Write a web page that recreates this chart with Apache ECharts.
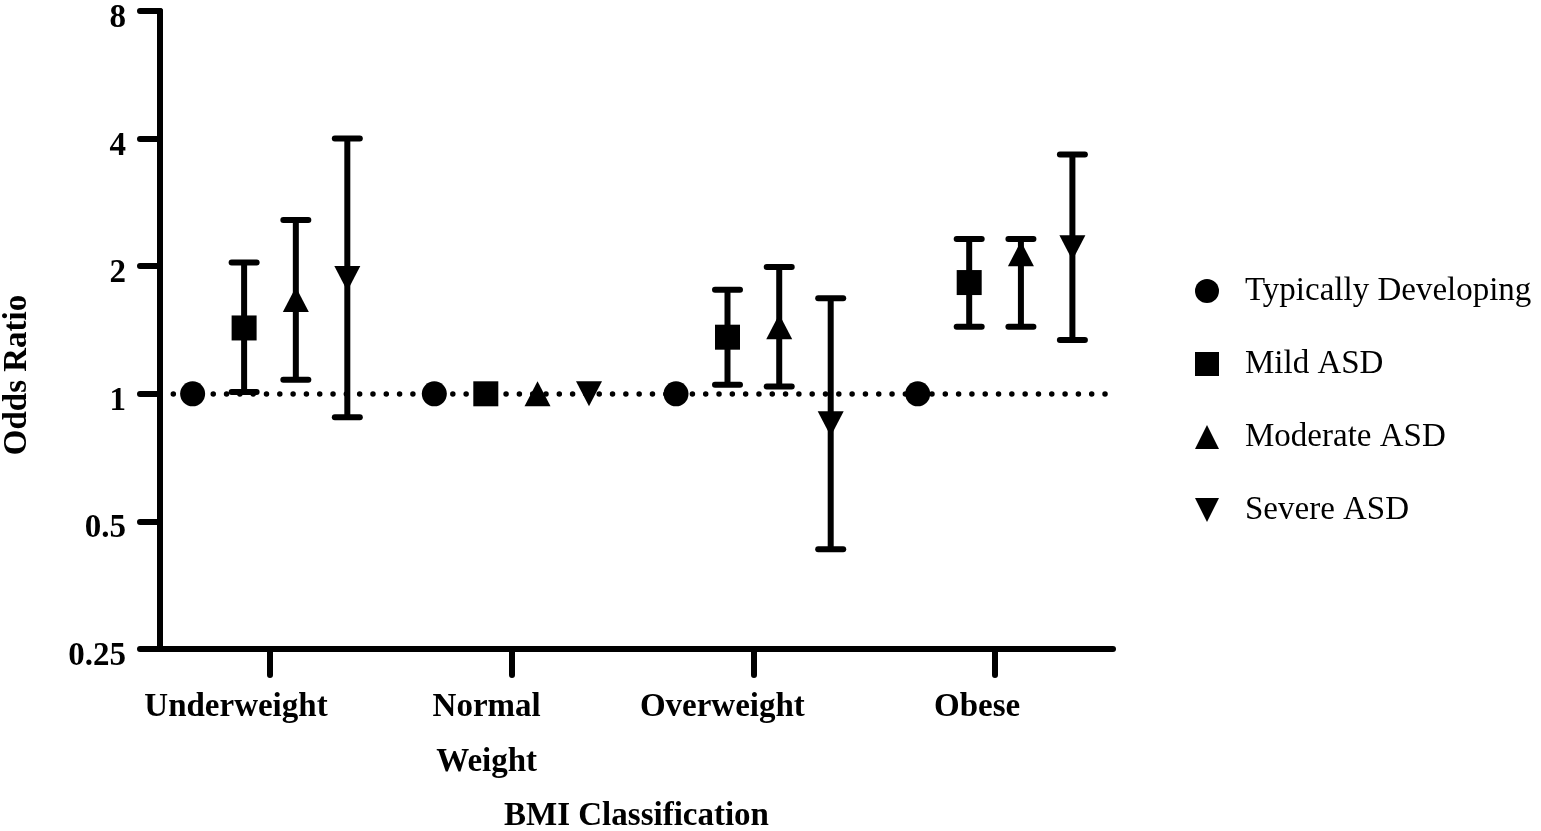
<!DOCTYPE html>
<html>
	<head>
		<meta charset="utf-8">
		<title>Odds Ratio by BMI Classification</title>
		<script src="https://cdn.jsdelivr.net/npm/echarts@6/dist/echarts.min.js"></script>
		<style>
			body { margin: 0; background: #fff; }
		</style>
	</head>
	<body>
		<div id="main" style="width: 1541px;height:831px;"></div>

		<script type="text/javascript">
			// data (odds ratio with 95% CI, log2 axis)
			var categories = ['Underweight', 'Normal\nWeight', 'Overweight', 'Obese'];
			var seriesNames = ['Typically Developing', 'Mild ASD', 'Moderate ASD', 'Severe ASD'];
			var yTicks = [0.25, 0.5, 1, 2, 4, 8];

			var tdOR = [1, 1, 1, 1];
			var mildOR = [1.43, 1, 1.36, 1.83];
			var mildLow = [1.01, null, 1.05, 1.44];
			var mildHigh = [2.04, null, 1.76, 2.32];
			var moderateOR = [1.67, 1, 1.44, 2.14];
			var moderateLow = [1.08, null, 1.04, 1.44];
			var moderateHigh = [2.57, null, 1.99, 2.32];
			var severeOR = [1.87, 1, 0.85, 2.21];
			var severeLow = [0.88, null, 0.43, 1.34];
			var severeHigh = [4.0, null, 1.68, 3.67];

			// layout: horizontal dodge of each series inside a group,
			// and how far each category label sits left of its tick
			var dodge = [-0.32, -0.107, 0.107, 0.32];
			var labelShift = [34, 25, 31, 18];
			var font = 'Liberation Serif';

			function points(values, k) {
				return values.map(function (v, i) { return [i + dodge[k], v]; });
			}
			function bars(low, high, k) {
				var out = [];
				low.forEach(function (lo, i) {
					if (lo != null) out.push([i + dodge[k], lo, high[i]]);
				});
				return out;
			}
			function renderBar(params, api) {
				var x = api.value(0);
				var pLo = api.coord([x, api.value(1)]);
				var pHi = api.coord([x, api.value(2)]);
				var half = 12.5;
				var st = { stroke: '#000', lineWidth: 6, lineCap: 'round' };
				return {
					type: 'group',
					children: [
						{ type: 'line', shape: { x1: pLo[0], y1: pLo[1], x2: pHi[0], y2: pHi[1] }, style: { stroke: '#000', lineWidth: 6 } },
						{ type: 'line', shape: { x1: pLo[0] - half, y1: pLo[1], x2: pLo[0] + half, y2: pLo[1] }, style: st },
						{ type: 'line', shape: { x1: pHi[0] - half, y1: pHi[1], x2: pHi[0] + half, y2: pHi[1] }, style: st }
					]
				};
			}
			function errorSeries(low, high, k) {
				return {
					type: 'custom',
					name: seriesNames[k] + ' CI',
					renderItem: renderBar,
					encode: { x: 0, y: [1, 2] },
					data: bars(low, high, k),
					silent: true,
					z: 1
				};
			}

			// one rich style per category label
			var catRich = {};
			labelShift.forEach(function (s, i) {
				catRich['c' + i] = {
					fontFamily: font, fontWeight: 'bold', fontSize: 33, color: '#000',
					lineHeight: 55, padding: [0, 2 * s, 0, 0]
				};
			});

			var myChart = echarts.init(document.getElementById('main'));

			var option = {
				animation: false,
				grid: { left: 160, right: 428, top: 11, bottom: 182, outerBoundsMode: 'none', containLabel: false },
				legend: {
					orient: 'vertical',
					left: 1190,
					top: 266,
					itemWidth: 24,
					itemHeight: 24,
					itemGap: 33,
					selectedMode: false,
					data: seriesNames,
					textStyle: { fontFamily: font, fontSize: 33, color: '#000', lineHeight: 32, padding: [8, 0, 0, 21] }
				},
				xAxis: {
					type: 'value',
					min: -0.455,
					max: 3.488,
					name: 'BMI Classification',
					nameLocation: 'middle',
					nameGap: 151,
					nameTextStyle: { fontFamily: font, fontWeight: 'bold', fontSize: 33, color: '#000' },
					axisLine: { onZero: false, lineStyle: { color: '#000', width: 6, cap: 'round' } },
					axisTick: { customValues: [0, 1, 2, 3], length: 26, lineStyle: { color: '#000', width: 6, cap: 'round' } },
					axisLabel: {
						customValues: [0, 1, 2, 3],
						formatter: function (v) {
							var i = Math.round(v);
							return categories[i].split('\n').map(function (t) {
								return '{c' + i + '|' + t + '}';
							}).join('\n');
						},
						margin: 31,
						lineHeight: 55,
						rich: catRich
					},
					splitLine: { show: false }
				},
				yAxis: {
					type: 'log',
					logBase: 2,
					min: 0.25,
					max: 8,
					name: 'Odds Ratio',
					nameLocation: 'middle',
					nameGap: 126,
					nameTextStyle: { fontFamily: font, fontWeight: 'bold', fontSize: 33, color: '#000', padding: [0, 90, 0, 0] },
					axisLine: { show: true, onZero: false, lineStyle: { color: '#000', width: 6, cap: 'round' } },
					axisTick: { show: true, customValues: yTicks, length: 20, lineStyle: { color: '#000', width: 6, cap: 'round' } },
					axisLabel: {
						customValues: yTicks,
						formatter: function (v) { return '{v|' + v + '}'; },
						margin: 34,
						rich: {
							v: { fontFamily: font, fontWeight: 'bold', fontSize: 33, color: '#000', padding: [15, 0, 0, 0] }
						}
					},
					splitLine: { show: false }
				},
				series: [
					errorSeries(mildLow, mildHigh, 1),
					errorSeries(moderateLow, moderateHigh, 2),
					errorSeries(severeLow, severeHigh, 3),
					{
						type: 'scatter',
						name: seriesNames[0],
						symbol: 'circle',
						symbolSize: 25,
						itemStyle: { color: '#000', opacity: 1 },
						data: points(tdOR, 0),
						z: 3,
						markLine: {
							silent: true,
							symbol: 'none',
							label: { show: false },
							lineStyle: { color: '#000', width: 5.5, type: [0.01, 13.3], cap: 'round' },
							data: [{ yAxis: 1 }],
							z: 2
						}
					},
					{
						type: 'scatter',
						name: seriesNames[1],
						symbol: 'rect',
						symbolSize: 25,
						itemStyle: { color: '#000', opacity: 1 },
						data: points(mildOR, 1),
						z: 3
					},
					{
						type: 'scatter',
						name: seriesNames[2],
						symbol: 'triangle',
						symbolSize: [26, 25],
						itemStyle: { color: '#000', opacity: 1 },
						data: points(moderateOR, 2),
						z: 3
					},
					{
						type: 'scatter',
						name: seriesNames[3],
						symbol: 'path://M0,0L2,0L1,2Z',
						symbolSize: [26, 25],
						itemStyle: { color: '#000', opacity: 1 },
						data: points(severeOR, 3),
						z: 3
					}
				]
			};

			myChart.setOption(option);
		</script>
	</body>
</html>
